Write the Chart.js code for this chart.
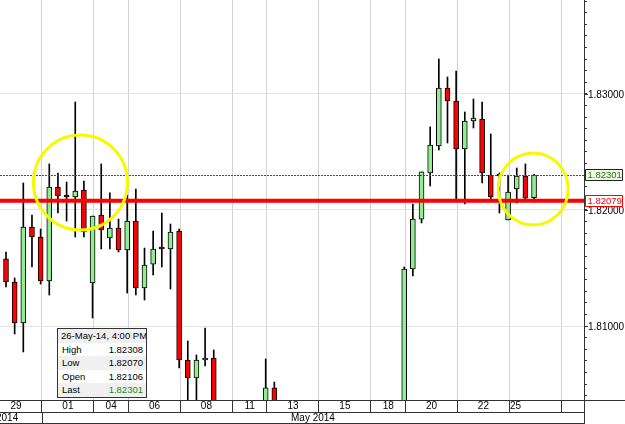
<!DOCTYPE html>
<html>
<head>
<meta charset="utf-8">
<script src="https://cdn.jsdelivr.net/npm/chart.js@4.4.0/dist/chart.umd.min.js"></script>
<style>
  html, body { margin: 0; padding: 0; background: #fff; }
  #wrap { position: relative; width: 625px; height: 424px; }
  #info { position: absolute; left: 57px; top: 328px; width: 88px; border: 1px solid #333; background: #fff;
          font: 9.5px "Liberation Sans", Arial, sans-serif; color: #000; }
  #info div { height: 13.6px; line-height: 13.6px; padding: 0 3px 0 4px; display: flex; justify-content: space-between; white-space: nowrap; }
  #info div.title { display: block; padding: 0 2px 0 3px; overflow: hidden; }
  #info div:nth-child(odd) { background: #f0f0f0; }
</style>
</head>
<body>
<div id="wrap">
  <canvas id="chart"></canvas>
  <div id="info"></div>
</div>
<script>
// 8-hour candles, Apr 29 - May 26 2014 (null = below the visible range)
const opens = [1.81578, 1.81379, 1.81026, 1.81853, 1.81767, 1.81388, 1.82198, 1.82121, 1.82112, 1.82172,
  1.81371, 1.81957, 1.81759, 1.81845, 1.81655, 1.81905, 1.81328, 1.81534, 1.81672, 1.81664,
  1.81819, 1.80707, 1.80552, 1.80707, 1.80724, null, null, null, null, null,
  1.80250, 1.80466, null, null, null, null, null, null, null, null,
  null, null, null, null, null, null, 1.79900, 1.81491, 1.81922, 1.82319,
  1.82552, 1.83052, 1.82940, 1.82526, 1.82767, 1.82784, 1.82302, 1.82293, 1.81914, 1.82181,
  1.82293, 1.82106];
const highs = [1.81638, 1.81414, 1.82233, 1.81957, 1.81836, 1.82397, 1.82319, 1.82241, 1.82931, 1.82250,
  1.81948, 1.82397, 1.82147, 1.81922, 1.82129, 1.82181, 1.81672, 1.81819, 1.81974, 1.81879,
  1.81836, 1.80871, 1.80750, 1.80983, 1.80793, null, null, null, null, null,
  1.80716, 1.80517, null, null, null, null, null, null, null, null,
  null, null, null, null, null, null, 1.81509, 1.82052, 1.82328, 1.82716,
  1.83302, 1.83147, 1.83198, 1.82845, 1.82957, 1.82931, 1.82655, 1.82319, 1.82302, 1.82362,
  1.82397, 1.82308];
const lows = [1.81336, 1.80931, 1.80776, 1.81509, 1.81362, 1.81267, 1.81974, 1.81905, 1.81767, 1.81767,
  1.81069, 1.81664, 1.81664, 1.81638, 1.81284, 1.81267, 1.81224, 1.81440, 1.81509, 1.81319,
  1.80638, 1.80300, 1.80340, 1.80655, 1.80100, null, null, null, null, null,
  1.80200, 1.80250, null, null, null, null, null, null, null, null,
  null, null, null, null, null, null, 1.79850, 1.81431, 1.81888, 1.82207,
  1.82517, 1.82578, 1.82086, 1.82052, 1.82707, 1.82233, 1.82078, 1.81974, 1.81914, 1.82060,
  1.82095, 1.82070];
const closes = [1.81379, 1.81026, 1.81853, 1.81767, 1.81388, 1.82198, 1.82121, 1.82112, 1.82164, 1.81810,
  1.81948, 1.81828, 1.81845, 1.81655, 1.81905, 1.81328, 1.81526, 1.81664, 1.81664, 1.81810,
  1.80707, 1.80552, 1.80707, 1.80724, 1.80200, null, null, null, null, null,
  1.80466, 1.80300, null, null, null, null, null, null, null, null,
  null, null, null, null, null, null, 1.81491, 1.81922, 1.82328, 1.82560,
  1.83052, 1.82940, 1.82526, 1.82767, 1.82793, 1.82319, 1.82112, 1.82310, 1.82155, 1.82293,
  1.82103, 1.82301];

const dayBreaks = [4, 10, 14, 20, 26, 30, 36, 42, 46, 52, 58, 64];
const dayLabels = ['29', '01', '04', '06', '08', '11', '13', '15', '18', '20', '22', '25'];
const dayLabelPos = [1, 7, 12, 17, 23, 28, 33, 39, 44, 49, 55, 58.7];
const monthLabels = ['Apr 2014', 'May 2014'];
const monthBreak = 4;
const priceLabels = [1.81, 1.82, 1.83];
const lastTime = '26-May-14, 4:00 PM';
const supportLevel = 1.82079;

const GREEN = '#90ee90', RED = '#ff0000';
const FONT = '10px "Liberation Sans", Arial, sans-serif';
const BOX_FONT = '9.5px "Liberation Sans", Arial, sans-serif';
const breakShift = 0.15;
const last = closes.length - 1;

// yellow marker circles (candle index / price, radius in px)
const circles = [
  { i: 8.6, p: 1.82237, rx: 47, ry: 47.5 },
  { i: 60.9, p: 1.82181, rx: 35, ry: 36 }
];

const wicks = [], bodies = [], bodyColors = [];
opens.forEach((o, i) => {
  if (o === null) return;
  wicks.push({ x: i, y: [lows[i], highs[i]] });
  bodies.push({ x: i, y: [o, closes[i]] });
  bodyColors.push(closes[i] >= o ? GREEN : RED);
});

// info box
const rows = [['High', highs[last]], ['Low', lows[last]], ['Open', opens[last]], ['Last', closes[last]]];
document.getElementById('info').innerHTML = `<div class="title">${lastTime}</div>` + rows.map(([k, v], n) =>
  `<div><span>${k}</span><span style="color:${n === 3 ? '#1a8a1a' : '#000'}">${v.toFixed(5)}</span></div>`
).join('');

function hline(ctx, x1, x2, y) { ctx.beginPath(); ctx.moveTo(x1, y); ctx.lineTo(x2, y); ctx.stroke(); }
function vline(ctx, x, y1, y2) { ctx.beginPath(); ctx.moveTo(x, y1); ctx.lineTo(x, y2); ctx.stroke(); }

function priceBox(ctx, x0, yc, text, fill, stroke, color) {
  const top = Math.round(yc) - 6;
  ctx.setLineDash([]);
  ctx.beginPath();
  ctx.rect(x0 + 0.5, top + 0.5, 37, 11);
  ctx.fillStyle = fill;
  ctx.fill();
  ctx.strokeStyle = stroke;
  ctx.lineWidth = 1;
  ctx.stroke();
  ctx.font = BOX_FONT;
  ctx.fillStyle = color;
  ctx.textAlign = 'left';
  ctx.textBaseline = 'middle';
  ctx.fillText(text, x0 + 2.5, top + 6.5);
}

const overlay = {
  id: 'overlay',
  afterDatasetsDraw(chart) {
    const { ctx, chartArea: a, scales: { x, y } } = chart;
    ctx.save();
    ctx.beginPath(); ctx.rect(a.left, a.top, a.right - a.left, a.bottom - a.top); ctx.clip();
    // last price (dotted)
    ctx.strokeStyle = RED; ctx.lineWidth = 1; ctx.setLineDash([2, 1]);
    hline(ctx, a.left, a.right, Math.round(y.getPixelForValue(closes[last])) + 0.5);
    ctx.setLineDash([]);
    // support level
    ctx.lineWidth = 4;
    hline(ctx, a.left, a.right, y.getPixelForValue(supportLevel));
    // circles
    ctx.strokeStyle = '#f8f800'; ctx.lineWidth = 3;
    circles.forEach(c => {
      ctx.beginPath();
      ctx.ellipse(x.getPixelForValue(c.i), y.getPixelForValue(c.p), c.rx, c.ry, 0, 0, Math.PI * 2);
      ctx.stroke();
    });
    ctx.restore();
  },
  afterDraw(chart) {
    const { ctx, chartArea: a, scales: { x, y }, width, height } = chart;
    ctx.save();
    ctx.font = FONT;
    ctx.strokeStyle = '#333'; ctx.lineWidth = 1;
    // axis frame
    hline(ctx, a.right, width, a.bottom + 0.5);
    hline(ctx, 0, a.right, a.bottom + 12.5);
    hline(ctx, 0, a.right, height - 0.5);
    vline(ctx, a.right + 0.5, a.bottom, height);
    vline(ctx, Math.round(x.getPixelForValue(monthBreak + breakShift)) + 0.5, a.bottom + 12, height);
    // day labels
    ctx.fillStyle = '#000'; ctx.textAlign = 'center'; ctx.textBaseline = 'middle';
    dayLabels.forEach((t, k) => ctx.fillText(t, x.getPixelForValue(dayLabelPos[k] + breakShift), a.bottom + 6.5));
    // month labels
    const mb = x.getPixelForValue(monthBreak + breakShift);
    ctx.fillText(monthLabels[0], mb - 44, a.bottom + 18.5);
    ctx.fillText(monthLabels[1], (mb + a.right) / 2, a.bottom + 18.5);
    // price labels
    ctx.textAlign = 'left';
    priceLabels.forEach(p => {
      const py = Math.round(y.getPixelForValue(p)) + 0.5;
      hline(ctx, a.right, a.right + 4, py);
      ctx.fillText(p.toFixed(5), a.right + 4, py + 0.5);
    });
    priceBox(ctx, a.right + 1, y.getPixelForValue(closes[last]), closes[last].toFixed(5), '#f2f6e2', '#222', '#1a7a1a');
    priceBox(ctx, a.right + 1, y.getPixelForValue(supportLevel), supportLevel.toFixed(5), '#fff', RED, RED);
    ctx.restore();
  }
};

new Chart(document.getElementById('chart'), {
  type: 'bar',
  data: {
    datasets: [
      { data: wicks, backgroundColor: '#000', barThickness: 1, grouped: false, order: 2, clip: 0 },
      { data: bodies, backgroundColor: bodyColors, borderColor: '#000', borderWidth: 1, borderSkipped: false,
        barThickness: 5, minBarLength: 2, grouped: false, order: 1, clip: 0 }
    ]
  },
  options: {
    responsive: true,
    maintainAspectRatio: false,
    animation: false,
    events: [],
    layout: { padding: 0 },
    plugins: { legend: { display: false }, tooltip: { enabled: false } },
    scales: {
      x: {
        type: 'linear', position: 'bottom', min: -0.693, max: 66.77, offset: false,
        afterBuildTicks: s => { s.ticks = dayBreaks.map(v => ({ value: v + breakShift })); },
        afterFit: s => { s.height = 24; },
        ticks: { display: false },
        grid: { offset: false, color: '#d2d2d2', tickColor: '#333', tickLength: 12 },
        border: { display: true, color: '#333' }
      },
      y: {
        type: 'linear', position: 'right', min: 1.803621, max: 1.838103,
        afterBuildTicks: s => {
          const t = [];
          for (let k = 1804; k <= 1838; k++) t.push({ value: k / 1000 });
          s.ticks = t;
        },
        afterFit: s => { s.width = 41; },
        ticks: { display: false },
        grid: {
          color: c => (Math.round(c.tick.value * 1000) % 10 === 0 ? '#e4e4e4' : 'rgba(0,0,0,0)'),
          tickColor: '#333', tickLength: 3
        },
        border: { display: true, color: '#333' }
      }
    }
  },
  plugins: [overlay]
});
</script>
</body>
</html>
